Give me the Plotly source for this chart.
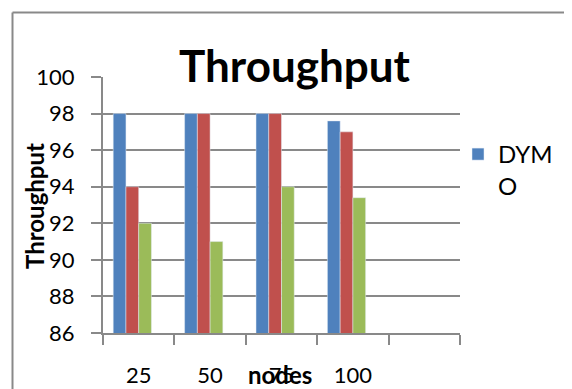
import plotly.graph_objects as go

categories = ["25", "50", "75", "100", " "]
dymo = [98, 98, 98, 97.6]
series2 = [94, 98, 98, 97]
series3 = [92, 91, 94, 93.4]
series4 = [None, None, None, None]
y_ticks = [86, 88, 90, 92, 94, 96, 98, 100]

FONT = "Lato"
GRID = "#898989"

OFF = 8  # page body margin
W, H = 572 - OFF, 389 - OFF
L, T = 103 - OFF, 77 - OFF
R = W - (460 - OFF)
B = H - (333 - OFF)
pw, ph = W - L - R, H - T - B

def px_x(x):
    return (x - OFF - L) / pw

def px_y(y):
    return (H - B - (y - OFF)) / ph

fig = go.Figure()
fig.add_bar(x=categories[:4], y=dymo, name="DYM<br>O", marker_color="#4F81BD")
fig.add_bar(x=categories[:4], y=series2, name="Series 2", marker_color="#C0504D", showlegend=False)
fig.add_bar(x=categories[:4], y=series3, name="Series 3", marker_color="#9BBB59", showlegend=False)
fig.add_bar(x=categories[:4], y=series4, name="Series 4", marker_color="#8064A2", showlegend=False)

fig.update_layout(
    width=W, height=H,
    margin=dict(l=L, r=R, t=T, b=B, autoexpand=False),
    paper_bgcolor="white", plot_bgcolor="white",
    barmode="group", bargap=0.286, bargroupgap=0,
    font=dict(family=FONT, size=22, color="black"),
    title=dict(text="<b>Throughput</b>", font=dict(family=FONT, size=44, color="black"),
               x=(294.5 - OFF) / W, xanchor="center", xref="container",
               y=1 - (67 - OFF) / H, yanchor="middle", yref="container"),
    showlegend=True,
    legend=dict(x=px_x(458), y=px_y(132), xanchor="left", yanchor="top",
                font=dict(family=FONT, size=24, color="black"), valign="top",
                bgcolor="rgba(0,0,0,0)", itemwidth=30, tracegroupgap=0),
    xaxis=dict(type="category", categoryorder="array", categoryarray=categories,
               range=[-0.5, 4.5], showgrid=False, showline=True, linecolor=GRID, linewidth=2,
               ticks="outside", tickson="boundaries", ticklen=10, tickwidth=2, tickcolor=GRID,
               ticklabelstandoff=22, tickfont=dict(family=FONT, size=22), zeroline=False),
    yaxis=dict(range=[86, 100], tickvals=y_ticks, showgrid=True, gridcolor=GRID, gridwidth=2,
               showline=True, linecolor=GRID, linewidth=2, ticks="outside", ticklen=10,
               tickwidth=2, tickcolor=GRID, ticklabelstandoff=12,
               tickfont=dict(family=FONT, size=22), zeroline=False),
    annotations=[
        dict(text="<b>Throughput</b>", textangle=-90, xref="paper", yref="paper",
             x=px_x(34), y=px_y(206), xanchor="center", yanchor="middle", showarrow=False,
             font=dict(family=FONT, size=24, color="black")),
        dict(text="<b>nodes</b>", xref="paper", yref="paper",
             x=px_x(280), y=px_y(374), xanchor="center", yanchor="middle", showarrow=False,
             font=dict(family=FONT, size=24, color="black")),
    ],
    shapes=[
        dict(type="line", xref="paper", yref="paper", x0=px_x(12.5), x1=px_x(12.5),
             y0=px_y(12.5), y1=px_y(400), line=dict(color=GRID, width=2)),
        dict(type="line", xref="paper", yref="paper", x0=px_x(12.5), x1=px_x(600),
             y0=px_y(12.5), y1=px_y(12.5), line=dict(color=GRID, width=2)),
    ],
)

fig.write_html("out.html")
